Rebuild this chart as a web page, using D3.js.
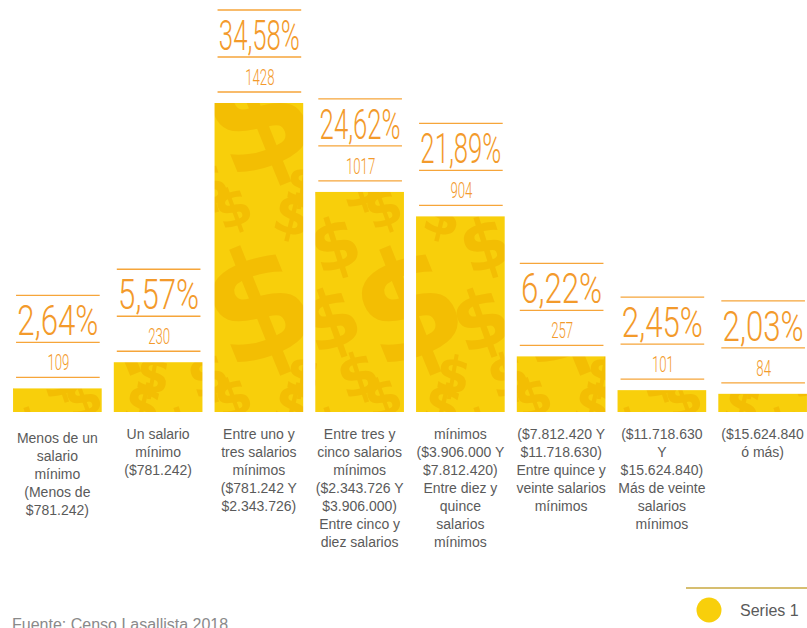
<!DOCTYPE html>
<html>
<head>
<meta charset="utf-8">
<script src="https://cdn.jsdelivr.net/npm/d3@7"></script>
<style>
  html, body { margin: 0; padding: 0; background: #ffffff; }
  svg { display: block; }
</style>
</head>
<body>
<svg id="chart" width="807" height="628"></svg>
<script>
// ---- data ----
const categoryLines = [
  ["Menos de un", "salario", "mínimo", "(Menos de", "$781.242)"],
  ["Un salario", "mínimo", "($781.242)"],
  ["Entre uno y", "tres salarios", "mínimos", "($781.242 Y", "$2.343.726)"],
  ["Entre tres y", "cinco salarios", "mínimos", "($2.343.726 Y", "$3.906.000)", "Entre cinco y", "diez salarios"],
  ["mínimos", "($3.906.000 Y", "$7.812.420)", "Entre diez y", "quince", "salarios", "mínimos"],
  ["($7.812.420 Y", "$11.718.630)", "Entre quince y", "veinte salarios", "mínimos"],
  ["($11.718.630", "Y", "$15.624.840)", "Más de veinte", "salarios", "mínimos"],
  ["($15.624.840", "ó más)"]
];
const counts = [109, 230, 1428, 1017, 904, 257, 101, 84];
const percentLabels = ["2,64%", "5,57%", "34,58%", "24,62%", "21,89%", "6,22%", "2,45%", "2,03%"];
const seriesName = "Series 1";
const sourceNote = "Fuente: Censo Lasallista 2018";

// ---- styles ----
const barColor = "#F8CF0B";
const dollarColor = "#F3BE03";
const orange = "#F39A2B";
const lineColor = "#F6A53A";
const labelColor = "#5a5a5a";

const svg = d3.select("#chart");
const idx = d3.range(counts.length);

const x = d3.scaleBand().domain(idx).range([7, 813]).paddingInner(0.12).paddingOuter(0.06);
const y = d3.scaleLinear().domain([0, 1428]).range([412, 103]);

// decorative dollar pattern (seamless tile)
const TW = 150, TH = 190;
const defs = svg.append("defs");
const pat = defs.append("pattern")
  .attr("id", "dollars")
  .attr("patternUnits", "userSpaceOnUse")
  .attr("x", 13).attr("y", 0)
  .attr("width", TW).attr("height", TH);
pat.append("rect").attr("width", TW).attr("height", TH).attr("fill", barColor);
const glyphs = [
  {gx: 95, gy: 115, s: 150, r: -22},
  {gx: 22, gy: 55, s: 70, r: -18},
  {gx: 70, gy: 18, s: 52, r: -20},
  {gx: 130, gy: 25, s: 55, r: 14},
  {gx: 18, gy: 130, s: 80, r: -20},
  {gx: 45, gy: 185, s: 58, r: -18},
  {gx: 140, gy: 185, s: 50, r: 10}
];
const tiled = [];
glyphs.forEach(g => {
  [-TW, 0, TW].forEach(dx => [-TH, 0, TH].forEach(dy => tiled.push({...g, gx: g.gx + dx, gy: g.gy + dy})));
});
pat.selectAll("text").data(tiled).join("text")
  .attr("transform", d => `translate(${d.gx},${d.gy}) rotate(${d.r})`)
  .attr("text-anchor", "middle")
  .attr("dominant-baseline", "central")
  .attr("font-family", "DejaVu Sans, sans-serif")
  .attr("font-weight", "bold")
  .attr("font-size", d => d.s)
  .attr("fill", dollarColor)
  .text("$");

// bars
svg.append("g").selectAll("rect").data(idx).join("rect")
  .attr("x", i => x(i))
  .attr("y", i => y(counts[i]))
  .attr("width", x.bandwidth())
  .attr("height", i => y(0) - y(counts[i]))
  .attr("fill", "url(#dollars)");

// value labels above bars
const lab = svg.append("g").selectAll("g").data(idx).join("g")
  .attr("transform", i => `translate(${x(i)},${y(counts[i])})`);
const bw = x.bandwidth();
[-93, -46, -11].forEach(dy => {
  lab.append("line")
    .attr("x1", 3).attr("x2", bw - 2)
    .attr("y1", dy).attr("y2", dy)
    .attr("stroke", lineColor).attr("stroke-width", 1.3);
});
lab.append("text")
  .attr("x", bw / 2 + 0.5).attr("y", -53)
  .attr("text-anchor", "middle")
  .attr("font-family", "Roboto, sans-serif")
  .attr("font-weight", 300)
  .attr("font-size", 42)
  .attr("fill", orange)
  .attr("textLength", 81)
  .attr("lengthAdjust", "spacingAndGlyphs")
  .text(i => percentLabels[i]);
lab.append("text")
  .attr("transform", `translate(${bw / 2 + 1},-18) scale(0.6,1)`)
  .attr("text-anchor", "middle")
  .attr("font-family", "Roboto, sans-serif")
  .attr("font-weight", 300)
  .attr("font-size", 22)
  .attr("fill", orange)
  .text(i => counts[i]);

// category labels
const cat = svg.append("g").selectAll("text").data(idx).join("text")
  .attr("text-anchor", "middle")
  .attr("font-family", "Liberation Sans, Arial, sans-serif")
  .attr("font-size", 14)
  .attr("fill", labelColor);
cat.selectAll("tspan").data(i => categoryLines[i].map(t => ({t, i}))).join("tspan")
  .attr("x", d => x(d.i) + bw / 2)
  .attr("y", (d, k) => 439 + (d.i === 0 ? 4 : 0) + k * 18)
  .text(d => d.t);

// legend
const leg = svg.append("g");
leg.append("line").attr("x1", 686).attr("x2", 807).attr("y1", 588).attr("y2", 588)
  .attr("stroke", "#C9A940").attr("stroke-width", 1.5);
leg.append("circle").attr("cx", 709).attr("cy", 610).attr("r", 12.5).attr("fill", barColor);
leg.append("text").attr("x", 740).attr("y", 616)
  .attr("font-family", "Liberation Sans, Arial, sans-serif")
  .attr("font-size", 16).attr("fill", labelColor)
  .text(seriesName);

// source note
svg.append("text").attr("x", 12).attr("y", 630)
  .attr("font-family", "Liberation Sans, Arial, sans-serif")
  .attr("font-size", 16).attr("fill", "#8a8a8a")
  .text(sourceNote);
</script>
</body>
</html>
